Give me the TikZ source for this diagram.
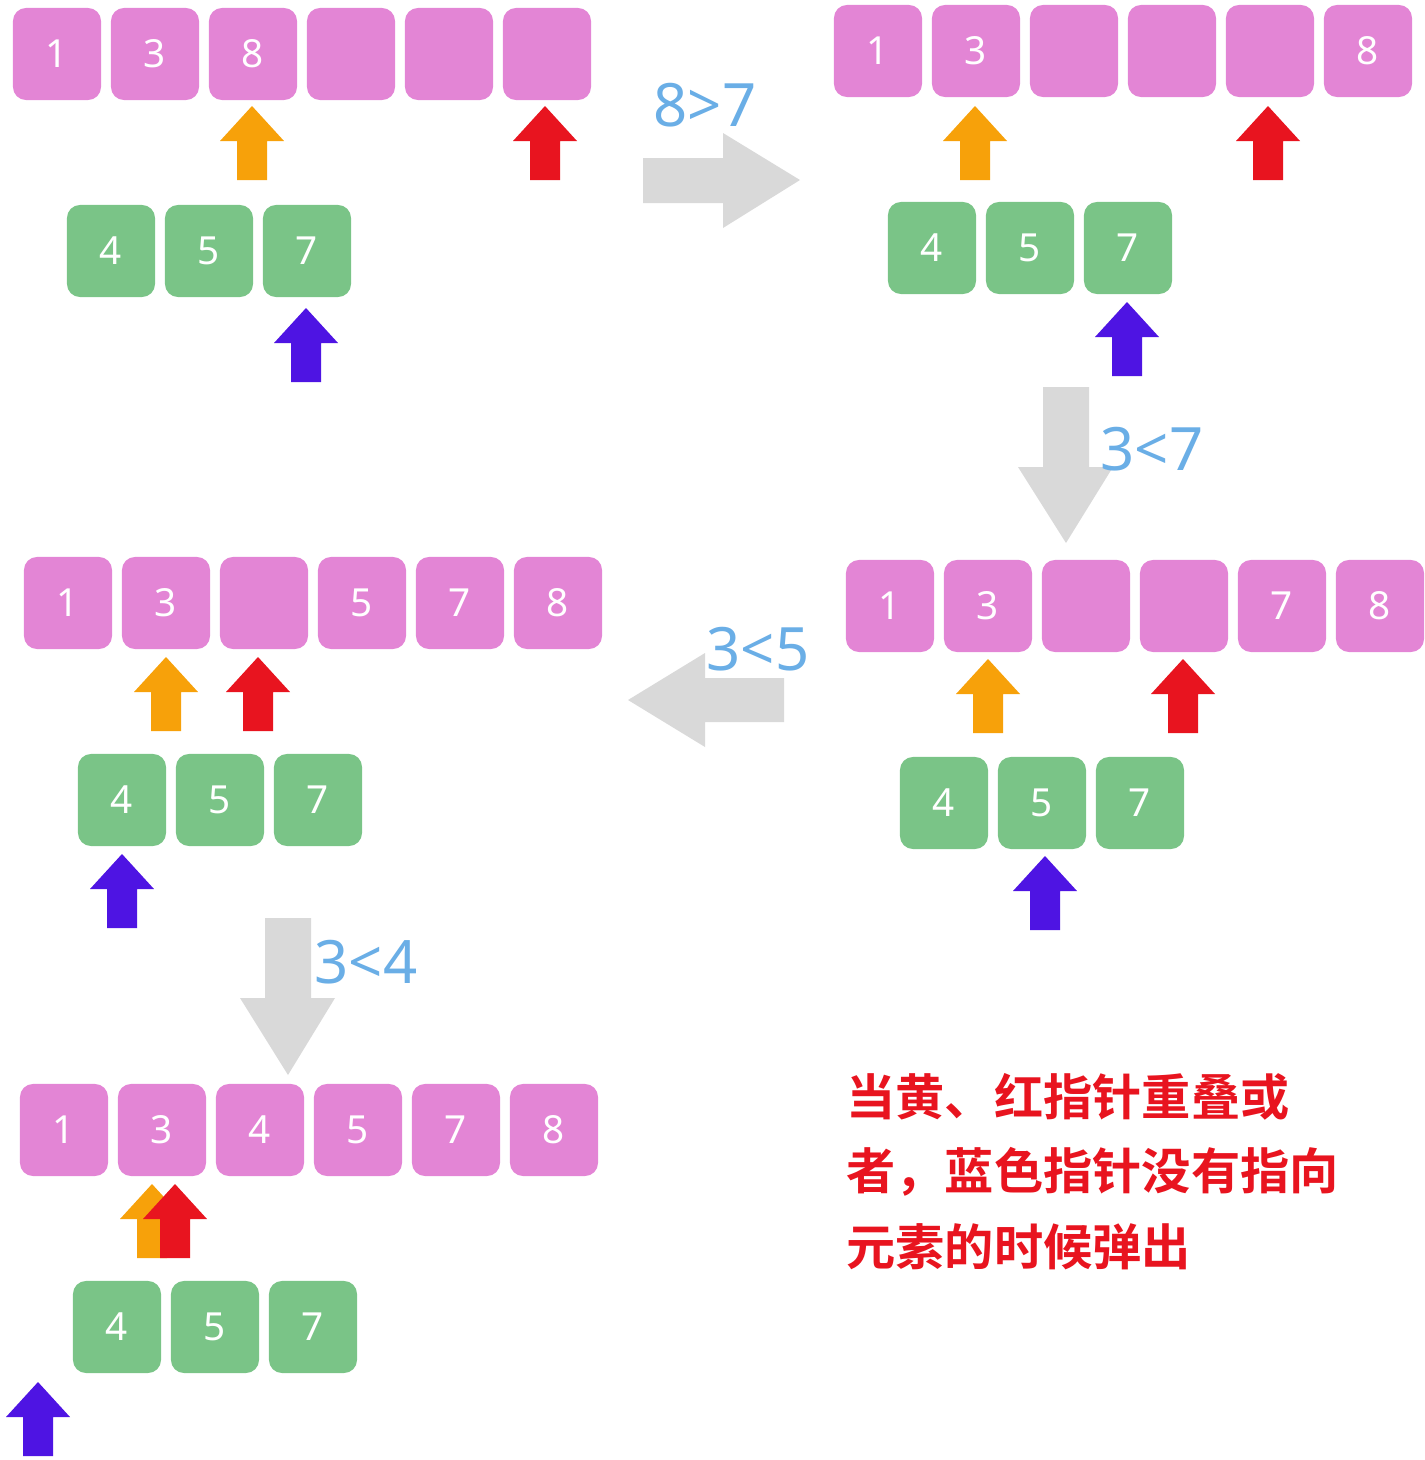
\documentclass[tikz,border=0pt]{standalone}
\usepackage{fontspec}
\setmainfont{Noto Sans}
\newfontfamily\cjk{Noto Sans CJK SC Bold}
\usetikzlibrary{positioning}
\definecolor{pinkbox}{HTML}{E385D5}
\definecolor{greenbox}{HTML}{7AC487}
\definecolor{ptrorange}{HTML}{F7A10A}
\definecolor{ptrred}{HTML}{E8141F}
\definecolor{ptrblue}{HTML}{4E14E3}
\definecolor{cmpblue}{HTML}{6AAEE6}
\definecolor{flowgray}{HTML}{D9D9D9}
\tikzset{
  cell/.style={minimum width=0.88cm,minimum height=0.92cm,rounded corners=0.13cm,
    inner sep=0pt,text=white,font=\fontsize{11}{11}\selectfont},
  pcell/.style={cell,fill=pinkbox},
  gcell/.style={cell,fill=greenbox},
  cmp/.style={text=cmpblue,font=\fontsize{17}{17}\selectfont\bfseries},
  note/.style={text=ptrred,font=\cjk\fontsize{14}{14}\selectfont,anchor=west}
}
% block arrow pointing up: x, bottom y, colour
\newcommand\ptr[3]{\fill[#3] (#1-15,#2) -- (#1+15,#2) -- (#1+15,#2-39) -- (#1+32,#2-39)
  -- (#1,#2-74) -- (#1-32,#2-39) -- (#1-15,#2-39) -- cycle;}
% row of cells: name, style, left x, top y, labels
\newcommand\cells[5]{\foreach \t [count=\i] in {#5}
  \node[#2] (#1\i) at (#3+44+98*\i-98,#4+46) {\t};}

\begin{document}
\begin{tikzpicture}[x=0.01cm,y=-0.01cm]
\useasboundingbox (0,0) rectangle (1425,1460);

% step 1
\cells{pa}{pcell}{13}{8}{1,3,8,{},{},{}}
\cells{ga}{gcell}{67}{205}{4,5,7}
\ptr{252}{180}{ptrorange}
\ptr{545}{180}{ptrred}
\ptr{306}{382}{ptrblue}

% step 2
\cells{pb}{pcell}{834}{5}{1,3,{},{},{},8}
\cells{gb}{gcell}{888}{202}{4,5,7}
\ptr{975}{180}{ptrorange}
\ptr{1268}{180}{ptrred}
\ptr{1127}{376}{ptrblue}

% step 3
\cells{pc}{pcell}{846}{560}{1,3,{},{},7,8}
\cells{gc}{gcell}{900}{757}{4,5,7}
\ptr{988}{733}{ptrorange}
\ptr{1183}{733}{ptrred}
\ptr{1045}{930}{ptrblue}

% step 4
\cells{pd}{pcell}{24}{557}{1,3,{},5,7,8}
\cells{gd}{gcell}{78}{754}{4,5,7}
\ptr{166}{731}{ptrorange}
\ptr{258}{731}{ptrred}
\ptr{122}{928}{ptrblue}

% step 5
\cells{pe}{pcell}{20}{1084}{1,3,4,5,7,8}
\cells{ge}{gcell}{73}{1281}{4,5,7}
\ptr{152}{1258}{ptrorange}
\ptr{175}{1258}{ptrred}
\ptr{38}{1456}{ptrblue}

% flow arrows
\fill[flowgray] (643,158) -- (723,158) -- (723,133) -- (800,180) -- (723,228) -- (723,203) -- (643,203) -- cycle;
\node[cmp] (c1) at (705,105) {8>7};
\fill[flowgray] (1043,387) -- (1089,387) -- (1089,467) -- (1113,467) -- (1066,543) -- (1018,467) -- (1043,467) -- cycle;
\node[cmp] (c2) at (1152,449) {3<7};
\fill[flowgray] (784,678) -- (705,678) -- (705,653) -- (628,700) -- (705,747) -- (705,722) -- (784,722) -- cycle;
\node[cmp] (c3) at (758,649) {3<5};
\fill[flowgray] (265,918) -- (311,918) -- (311,998) -- (335,998) -- (288,1075) -- (240,998) -- (265,998) -- cycle;
\node[cmp] (c4) at (366,962) {3<4};

% note
\node[note] (n1) at (834,1097) {当黄、红指针重叠或};
\node[note] (n2) at (834,1172) {者，蓝色指针没有指向};
\node[note] (n3) at (834,1247) {元素的时候弹出};
\end{tikzpicture}
\end{document}
